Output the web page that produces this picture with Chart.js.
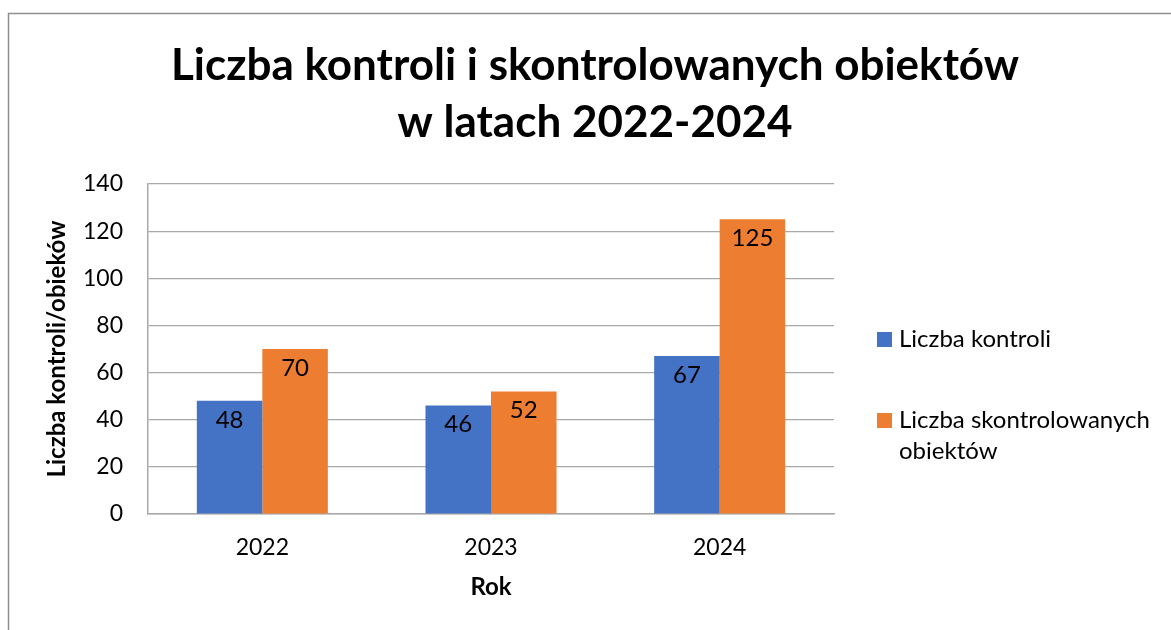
<!DOCTYPE html>
<html lang="pl">
<head>
<meta charset="utf-8">
<title>Liczba kontroli i skontrolowanych obiektów</title>
<script src="https://cdn.jsdelivr.net/npm/chart.js@4.4.1/dist/chart.umd.min.js"></script>
<style>
  html, body { margin: 0; padding: 0; background: #fff; }
  canvas { display: block; }
</style>
</head>
<body>
<canvas id="kontrole-chart" width="1171" height="630"></canvas>
<script>
/*global Chart*/

const years = ["2022", "2023", "2024"];
const kontrole = [48, 46, 67];
const obiekty = [70, 52, 125];
const seriesNames = ["Liczba kontroli", "Liczba skontrolowanych obiektów"];
const legendLines = [["Liczba kontroli"], ["Liczba skontrolowanych", "obiektów"]];
const titleLines = ["Liczba kontroli i skontrolowanych obiektów", "w latach 2022-2024"];
const yTitle = "Liczba kontroli/obieków";
const xTitle = "Rok";

const BLUE = "#4472c4";
const ORANGE = "#ed7d31";
const GRID = "#a9a9a9";
const FONT = "Lato, 'Open Sans', sans-serif";

// outer frame (only top and left edges are inside the canvas)
const framePlugin = {
  id: "frame",
  beforeDraw(chart) {
    const ctx = chart.ctx;
    ctx.save();
    ctx.fillStyle = "#fff";
    ctx.fillRect(0, 0, chart.width, chart.height);
    ctx.strokeStyle = "#8e8e8e";
    ctx.lineWidth = 1.5;
    ctx.beginPath();
    ctx.moveTo(chart.width, 13.5);
    ctx.lineTo(8.5, 13.5);
    ctx.lineTo(8.5, chart.height);
    ctx.stroke();
    ctx.restore();
  },
};

const titlePlugin = {
  id: "bigTitle",
  afterDraw(chart) {
    const ctx = chart.ctx;
    ctx.save();
    ctx.font = "bold 44px " + FONT;
    ctx.fillStyle = "#000";
    ctx.textAlign = "center";
    ctx.textBaseline = "alphabetic";
    ctx.fillText(titleLines[0], 595, 80);
    ctx.fillText(titleLines[1], 595, 137);
    ctx.restore();
  },
};

// value labels just inside the top of each bar
const valueLabelPlugin = {
  id: "valueLabels",
  afterDatasetsDraw(chart) {
    const ctx = chart.ctx;
    ctx.save();
    ctx.font = "24px " + FONT;
    ctx.fillStyle = "#000";
    ctx.textAlign = "center";
    ctx.textBaseline = "middle";
    chart.data.datasets.forEach((ds, i) => {
      chart.getDatasetMeta(i).data.forEach((bar, j) => {
        ctx.fillText(String(ds.data[j]), bar.x, bar.y + 19);
      });
    });
    ctx.restore();
  },
};

const sideLegendPlugin = {
  id: "sideLegend",
  afterDraw(chart) {
    const ctx = chart.ctx;
    const colors = chart.data.datasets.map((ds) => ds.backgroundColor);
    const rows = [347, 428];
    ctx.save();
    ctx.font = "24px " + FONT;
    ctx.textBaseline = "alphabetic";
    ctx.textAlign = "left";
    legendLines.forEach((lines, i) => {
      ctx.fillStyle = colors[i];
      ctx.fillRect(877, rows[i] - 15, 15, 15);
      ctx.fillStyle = "#000";
      lines.forEach((line, k) => {
        ctx.fillText(line, 899, rows[i] + k * 31);
      });
    });
    ctx.restore();
  },
};

const ctx = document.getElementById("kontrole-chart").getContext("2d");

new Chart(ctx, {
  type: "bar",
  plugins: [framePlugin, valueLabelPlugin, titlePlugin, sideLegendPlugin],
  data: {
    labels: years,
    datasets: [
      { label: seriesNames[0], data: kontrole, backgroundColor: BLUE },
      { label: seriesNames[1], data: obiekty, backgroundColor: ORANGE },
    ],
  },
  options: {
    responsive: false,
    animation: false,
    devicePixelRatio: 1,
    layout: {
      padding: { left: 43, right: 337, top: 184, bottom: 28 },
    },
    datasets: {
      bar: {
        categoryPercentage: 0.573,
        barPercentage: 1,
        borderWidth: 0,
      },
    },
    plugins: {
      legend: { display: false },
      title: { display: false },
      tooltip: { enabled: false },
    },
    scales: {
      x: {
        grid: { display: false, drawTicks: false },
        border: { color: GRID, width: 1.5 },
        ticks: {
          color: "#000",
          padding: 20,
          font: { family: FONT, size: 23 },
        },
        title: {
          display: true,
          text: xTitle,
          color: "#000",
          padding: 0,
          font: { family: FONT, size: 24, weight: "bold" },
        },
        afterFit(scale) {
          scale.height = 88;
        },
      },
      y: {
        min: 0,
        max: 140,
        grid: { color: GRID, lineWidth: 1.2, drawTicks: false },
        border: { color: GRID, width: 1.5 },
        ticks: {
          stepSize: 20,
          color: "#000",
          padding: 25,
          font: { family: FONT, size: 23 },
        },
        title: {
          display: true,
          text: yTitle,
          color: "#000",
          padding: 0,
          font: { family: FONT, size: 24, weight: "bold" },
        },
        afterFit(scale) {
          scale.width = 105;
        },
      },
    },
  },
});
</script>
</body>
</html>
